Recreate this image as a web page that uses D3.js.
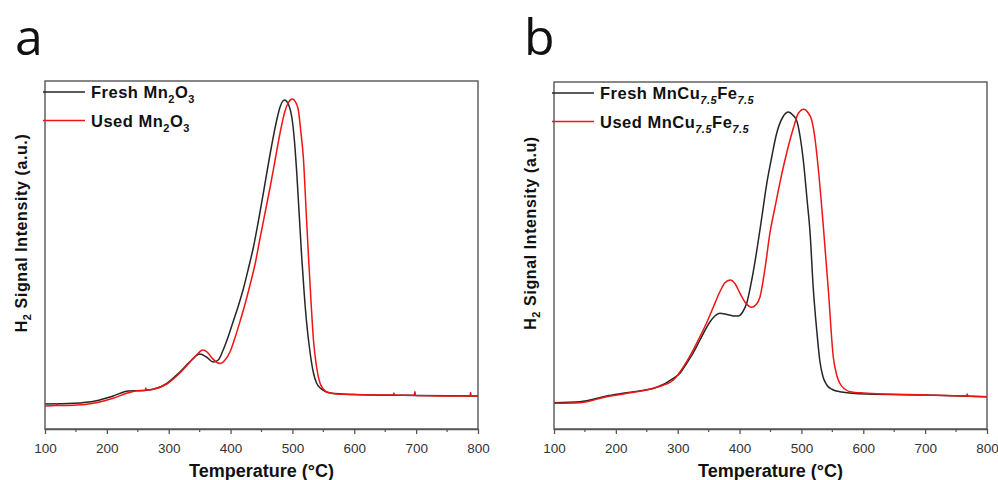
<!DOCTYPE html>
<html>
<head>
<meta charset="utf-8">
<script src="https://cdn.jsdelivr.net/npm/d3@7"></script>
<style>
    body { margin: 0; background: #fff; }
    svg { display: block; }
</style>
</head>
<body>
<div id="chart"></div>
<script>
// temperature (°C), signal (a.u.)

const xTicks = [100, 200, 300, 400, 500, 600, 700, 800];
const xMinorTicks = [150, 250, 350, 450, 550, 650, 750];

// panel a
const freshMn2O3 = [[100,25],[146,25.7],[183,28.3],[210,33],[235,38],[254,38.3],[275,39.7],[297,45.7],[318,57],[337,69],[350,75],[361,72],[372,67],[380,69],[388,79],[396,92],[404,107],[412,122],[421,141],[429,161],[437,182],[445,208],[453,236],[466,282],[475,310],[480,322],[487,329],[494,324],[499,312],[503,290],[507,256],[511,214],[515,172],[519,136],[523,106],[528,79],[534,56],[539,46],[545,41],[552,38],[561,36],[580,35],[600,34.5],[700,33.5],[800,33]];
const usedMn2O3 = [[100,23],[118,23.4],[119,25.5],[120,23.4],[146,23.7],[183,26.3],[210,30.7],[232,35.7],[248,38.3],[262,38.8],[263,41],[264,38.9],[275,39.7],[297,45],[318,56],[340,70.7],[348,76],[355,79],[362,77],[370,71],[377,67],[383,65.5],[391,69],[399,77],[407,91],[415,107],[423,124],[431,143],[440,166],[448,192],[456,217],[464,242],[472,269],[480,296],[488,318],[493,326],[500,330],[505,327],[509.5,319],[514,295],[517.6,272],[522,220],[526,172],[530,128],[534,89],[539,62],[544.5,46],[550,40],[555,37],[571.5,35],[600,34.5],[663,34],[664,36],[665,34],[697,33.8],[698,37.5],[699,33.6],[787,33],[788,36.5],[789,33],[800,33]];

// panel b
const freshMnCuFe = [[100,26.3],[142,27.3],[185,33],[217,36.3],[266,41.7],[293,50.7],[304,56],[314.5,65.7],[325,76],[336,89],[352,107],[360,113],[368,115.7],[376,115],[384,114],[392,113],[398,113],[405,117],[411.5,125.7],[420,150],[428,179],[436,212],[444,245.7],[452,272],[460,295.7],[470,312],[479,317],[486,314],[492,309],[498,292],[503,269],[509,230],[514,196],[519,142],[525,97],[530,67],[535,52],[541,44],[550,39.5],[562,37.3],[605,35],[700,34],[800,32.3]];
const usedMnCuFe = [[100,25.7],[142,26.3],[185,32.3],[212,35],[266,41.7],[293,49],[314.5,67.3],[336,92.3],[348,108],[357.6,122],[368,137],[376,146],[385,149],[393,145],[400.7,135.7],[410,126],[419.6,121.7],[426,124],[433,132],[441,160],[449,195.7],[457,221],[465,245.7],[473,268],[481.5,289],[488,303],[495,315.7],[504,319.7],[511,316],[516.6,309],[522,290],[527,262],[535,205.7],[543.5,139],[551.5,72],[557,54],[562,45.7],[570,40],[578.5,37.3],[600,36],[700,34],[767,33],[768,35],[769,33],[800,32.3]];

const width = 998, height = 480;
const fontBold = "'Liberation Sans', Arial, sans-serif";

const svg = d3.select("#chart").append("svg")
    .attr("width", width)
    .attr("height", height)
    .attr("viewBox", [0, 0, width, height]);

svg.append("rect").attr("width", width).attr("height", height).attr("fill", "#fff");

drawPanel({
    left: 45, right: 478, top: 81, bottom: 429,
    letter: "a",
    yLabel: " Signal Intensity (a.u.)",
    series: [
        {data: freshMn2O3, color: "#262626", name: ["Fresh Mn", "2", "O", "3"]},
        {data: usedMn2O3, color: "#f01414", name: ["Used Mn", "2", "O", "3"]}
    ],
    italicSub: false
});

drawPanel({
    left: 554, right: 987, top: 82, bottom: 429,
    letter: "b",
    yLabel: " Signal Intensity (a.u)",
    series: [
        {data: freshMnCuFe, color: "#262626", name: ["Fresh MnCu", "7.5", "Fe", "7.5"]},
        {data: usedMnCuFe, color: "#f01414", name: ["Used MnCu", "7.5", "Fe", "7.5"]}
    ],
    italicSub: true
});

function drawPanel({left, right, top, bottom, letter, yLabel, series, italicSub}) {
    const x = d3.scaleLinear().domain([100, 800]).range([left, right]);
    // y in a.u., bottom of frame = 0
    const y = d3.scaleLinear().domain([0, bottom - top]).range([bottom, top]);

    const g = svg.append("g");

    // panel letter
    g.append("text")
        .attr("x", left - 30)
        .attr("y", 55)
        .attr("font-family", "'Open Sans', 'Noto Sans', sans-serif")
        .attr("font-size", 50)
        .attr("fill", "#111")
        .text(letter);

    // curves
    const line = d3.line()
        .x(d => x(d[0]))
        .y(d => y(d[1]))
        .curve(d3.curveMonotoneX);

    series.forEach(s => {
        g.append("path")
            .datum(s.data)
            .attr("fill", "none")
            .attr("stroke", s.color)
            .attr("stroke-width", 1.5)
            .attr("stroke-linejoin", "round")
            .attr("d", line);
    });

    // frame
    g.append("rect")
        .attr("x", left).attr("y", top)
        .attr("width", right - left).attr("height", bottom - top)
        .attr("fill", "none")
        .attr("stroke", "#555")
        .attr("stroke-width", 1.4);

    // x axis
    const xAxis = d3.axisBottom(x)
        .tickValues(xTicks)
        .tickSizeInner(5)
        .tickSizeOuter(0)
        .tickPadding(9)
        .tickFormat(d3.format("d"));

    g.append("g")
        .attr("transform", `translate(0,${bottom})`)
        .call(xAxis)
        .call(a => a.select(".domain").attr("stroke", "#555").attr("stroke-width", 1.4))
        .call(a => a.selectAll(".tick line").attr("stroke", "#555").attr("stroke-width", 1.3))
        .call(a => a.selectAll(".tick text")
            .attr("font-family", "'Liberation Sans', Arial, sans-serif")
            .attr("font-size", 13.5)
            .attr("fill", "#333"));

    g.append("g")
        .attr("transform", `translate(0,${bottom})`)
        .selectAll("line")
        .data(xMinorTicks)
        .join("line")
        .attr("x1", d => x(d)).attr("x2", d => x(d))
        .attr("y1", 0).attr("y2", 3)
        .attr("stroke", "#555")
        .attr("stroke-width", 1.2);

    // x label
    g.append("text")
        .attr("x", (left + right) / 2)
        .attr("y", 477)
        .attr("text-anchor", "middle")
        .attr("font-family", fontBold)
        .attr("font-weight", "bold")
        .attr("font-size", 18)
        .attr("fill", "#111")
        .text("Temperature (°C)");

    // y label
    const yl = g.append("text")
        .attr("transform", `translate(${left - 18},${233}) rotate(-90)`)
        .attr("text-anchor", "middle")
        .attr("font-family", fontBold)
        .attr("font-weight", "bold")
        .attr("font-size", 16)
        .attr("letter-spacing", 0.6)
        .attr("fill", "#111");
    yl.append("tspan").text("H");
    yl.append("tspan").attr("font-size", 11).attr("dy", 4).text("2");
    yl.append("tspan").attr("dy", -4).text(yLabel);

    // legend
    series.forEach((s, i) => {
        const ly = top + 11 + i * 28.5;
        g.append("line")
            .attr("x1", left - 2).attr("x2", left + 40)
            .attr("y1", ly).attr("y2", ly)
            .attr("stroke", s.color)
            .attr("stroke-width", 1.6);
        const t = g.append("text")
            .attr("x", left + 46)
            .attr("y", ly + 6)
            .attr("font-family", fontBold)
            .attr("font-weight", "bold")
            .attr("font-size", 16.5)
            .attr("letter-spacing", 0.5)
            .attr("fill", "#111");
        t.append("tspan").text(s.name[0]);
        t.append("tspan").attr("font-size", 11).attr("dy", 5)
            .attr("font-style", italicSub ? "italic" : null).text(s.name[1]);
        t.append("tspan").attr("dy", -5).text(s.name[2]);
        t.append("tspan").attr("font-size", 11).attr("dy", 5)
            .attr("font-style", italicSub ? "italic" : null).text(s.name[3]);
    });
}
</script>
</body>
</html>
